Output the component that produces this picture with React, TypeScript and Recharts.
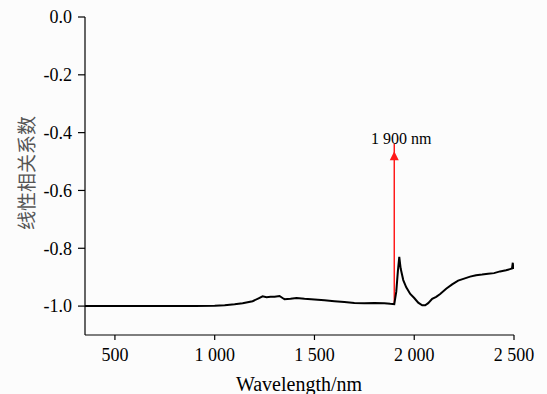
import React from 'react';
import { LineChart, Line, XAxis, YAxis, ReferenceLine, ReferenceDot } from 'recharts';

const wavelengths = [350, 400, 500, 600, 700, 800, 900, 1000, 1050, 1100, 1140, 1190, 1220, 1240, 1260, 1280, 1300, 1325, 1340, 1350, 1380, 1410, 1450, 1500, 1550, 1600, 1650, 1700, 1750, 1800, 1850, 1880, 1900, 1910, 1918, 1925, 1932, 1945, 1960, 1980, 2000, 2020, 2040, 2055, 2070, 2090, 2110, 2130, 2160, 2190, 2220, 2250, 2280, 2310, 2340, 2370, 2400, 2430, 2460, 2480, 2490, 2494, 2496, 2500];
const coefficients = [-1.0, -1.0, -1.0, -1.0, -1.0, -1.0, -1.0, -0.999, -0.997, -0.994, -0.99, -0.983, -0.973, -0.966, -0.969, -0.968, -0.968, -0.965, -0.972, -0.976, -0.975, -0.972, -0.975, -0.977, -0.98, -0.983, -0.986, -0.989, -0.99, -0.989, -0.99, -0.992, -0.993, -0.95, -0.88, -0.83, -0.87, -0.91, -0.935, -0.958, -0.972, -0.988, -0.997, -0.997, -0.99, -0.975, -0.968, -0.958, -0.94, -0.925, -0.912, -0.905, -0.898, -0.893, -0.891, -0.888, -0.886, -0.88, -0.876, -0.872, -0.87, -0.85, -0.868, -0.868];

const xTicks = [500, 1000, 1500, 2000, 2500];
const yTicks = [0, -0.2, -0.4, -0.6, -0.8, -1.0];
const markWavelength = 1900;
const markStart = -0.993;
const markEnd = -0.464;
const markLabel = '1 900 nm';
const xTitle = 'Wavelength/nm';
const yTitle = '线性相关系数';

const data = wavelengths.map((w, i) => ({ w, v: coefficients[i] }));

const serif = '"Liberation Serif", "Times New Roman", serif';

const fmtX = (v: number) => (v >= 1000 ? `${Math.floor(v / 1000)} ${String(v % 1000).padStart(3, '0')}` : String(v));
const fmtY = (v: number) => v.toFixed(1);

const XTick = (props: any) => (
  <text x={props.x} y={props.y} dy="0.71em" textAnchor="middle" fontFamily={serif} fontSize={18} fill="#000">
    {fmtX(props.payload.value)}
  </text>
);

const YTick = (props: any) => (
  <text x={props.x} y={props.y} dy="0.35em" textAnchor="end" fontFamily={serif} fontSize={18} fill="#000">
    {fmtY(props.payload.value)}
  </text>
);

const ArrowHead = (props: any) => {
  const { cx, cy } = props;
  if (cx == null || cy == null) return null;
  return (
    <g>
      <path d={`M${cx},${cy} L${cx - 4.5},${cy + 9} L${cx + 4.5},${cy + 9} Z`} fill="#ff1a1a" />
      <text x={cx + 7} y={cy - 7} textAnchor="middle" fontFamily={serif} fontSize={16} fill="#000">
        {markLabel}
      </text>
    </g>
  );
};

export default function App() {
  return (
    <div style={{ position: 'absolute', left: 0, top: 0, width: 547, height: 394, background: '#fcfcfc' }}>
      <LineChart width={547} height={394} data={data} margin={{ top: 17, right: 33, bottom: 19, left: 25 }}>
        <XAxis
          dataKey="w"
          type="number"
          domain={[350, 2500]}
          ticks={xTicks}
          height={40}
          tickSize={5}
          tickMargin={8}
          stroke="#000"
          strokeWidth={1.2}
          tick={XTick}
          allowDataOverflow
          label={{
            content: () => (
              <text x={299} y={391} textAnchor="middle" fontFamily={serif} fontSize={20} fill="#000">
                {xTitle}
              </text>
            ),
          }}
        />
        <YAxis
          type="number"
          domain={[-1.1, 0]}
          ticks={yTicks}
          width={60}
          tickSize={7}
          tickMargin={6}
          stroke="#000"
          strokeWidth={1.2}
          tick={YTick}
          allowDataOverflow
          label={{
            content: () => (
              <text
                x={25}
                y={173}
                transform="rotate(-90, 25, 173)"
                textAnchor="middle"
                dominantBaseline="central"
                fontFamily='"Noto Sans CJK SC", sans-serif'
                fontSize={19}
                fill="#555"
              >
                {yTitle}
              </text>
            ),
          }}
        />
        <ReferenceLine
          segment={[
            { x: markWavelength, y: markStart },
            { x: markWavelength, y: markEnd + 0.025 },
          ]}
          stroke="#ff1a1a"
          strokeWidth={1.5}
        />
        <Line type="linear" dataKey="v" stroke="#000" strokeWidth={2} dot={false} isAnimationActive={false} />
        <ReferenceDot x={markWavelength} y={markEnd} r={0} shape={ArrowHead} />
      </LineChart>
    </div>
  );
}
